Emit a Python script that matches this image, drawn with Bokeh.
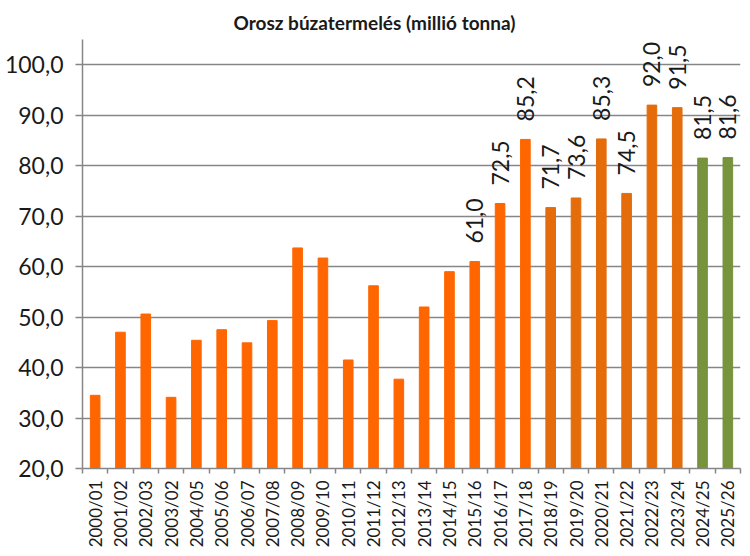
import math
from bokeh.plotting import figure
from bokeh.models import FixedTicker, ColumnDataSource, Range1d
from bokeh.core.properties import value
from bokeh.embed import file_html
from bokeh.resources import INLINE

title_text = "Orosz búzatermelés (millió tonna)"
seasons = ["2000/01", "2001/02", "2002/03", "2003/02", "2004/05", "2005/06", "2006/07",
           "2007/08", "2008/09", "2009/10", "2010/11", "2011/12", "2012/13", "2013/14",
           "2014/15", "2015/16", "2016/17", "2017/18", "2018/19", "2019/20", "2020/21",
           "2021/22", "2022/23", "2023/24", "2024/25", "2025/26"]
production = [34.5, 47.0, 50.6, 34.1, 45.4, 47.5, 44.9, 49.3, 63.7, 61.7, 41.5, 56.2, 37.7,
              52.0, 59.0, 61.0, 72.5, 85.2, 71.7, 73.6, 85.3, 74.5, 92.0, 91.5, 81.5, 81.6]
bar_colors = ["#FF6600"] * 18 + ["#E46C0A"] * 6 + ["#77933C"] * 2
first_labelled = "2015/16"
y_ticks = [20, 30, 40, 50, 60, 70, 80, 90, 100]

FONT = "Lato"
n = len(seasons)
xs = [i + 0.5 for i in range(n)]

src = ColumnDataSource(dict(x=xs, top=production, color=bar_colors))

p = figure(width=750, height=556, output_backend="svg", toolbar_location=None,
           x_range=Range1d(0, n), y_range=Range1d(20, 105),
           min_border_left=82, min_border_right=10, min_border_top=39, min_border_bottom=88,
           title=title_text)
p.title.align = "left"
p.title.offset = 151
p.title.text_font = FONT
p.title.text_font_size = "19px"
p.title.text_font_style = "bold"
p.title.text_color = "#1a1a1a"
p.title.standoff = 12
p.outline_line_color = None
p.background_fill_color = "white"
p.border_fill_color = "white"

p.vbar(x="x", top="top", bottom=20, width=0.38, color="color", source=src)

start = seasons.index(first_labelled)
lab_src = ColumnDataSource(dict(
    x=xs[start:], y=production[start:],
    t=[f"{v:.1f}".replace(".", ",") for v in production[start:]]))
p.text(x="x", y="y", text="t", source=lab_src, angle=math.pi / 2,
       text_align="left", text_baseline="middle", y_offset=-18,
       text_font=value(FONT), text_font_size="23px", text_color="#1a1a1a")

# axes
p.xaxis.ticker = FixedTicker(ticks=xs, minor_ticks=list(range(n + 1)))
p.xaxis.major_label_overrides = {x: s for x, s in zip(xs, seasons)}
p.xaxis.major_tick_line_color = None
p.xaxis.minor_tick_out = 5
p.xaxis.minor_tick_in = 0
p.xaxis.minor_tick_line_color = "#868686"
p.xaxis.minor_tick_line_width = 1.5
p.xaxis.axis_line_color = "#868686"
p.xaxis.axis_line_width = 1.5
p.xaxis.major_label_orientation = math.pi / 2
p.xaxis.major_label_text_font = FONT
p.xaxis.major_label_text_font_size = "17px"
p.xaxis.major_label_text_color = "#1a1a1a"
p.xaxis.major_label_standoff = 6

p.yaxis.ticker = FixedTicker(ticks=y_ticks)
p.yaxis.major_label_overrides = {v: f"{v:.1f}".replace(".", ",") for v in y_ticks}
p.yaxis.major_tick_out = 7
p.yaxis.major_tick_in = 0
p.yaxis.major_tick_line_color = "#868686"
p.yaxis.major_tick_line_width = 1.5
p.yaxis.minor_tick_line_color = None
p.yaxis.axis_line_color = "#868686"
p.yaxis.axis_line_width = 1.5
p.yaxis.major_label_text_font = FONT
p.yaxis.major_label_text_font_size = "23px"
p.yaxis.major_label_text_color = "#1a1a1a"
p.yaxis.major_label_standoff = 12

p.xgrid.grid_line_color = None
p.ygrid.grid_line_color = "#868686"
p.ygrid.grid_line_width = 1.5

open("out.html", "w").write(file_html(p, INLINE))
